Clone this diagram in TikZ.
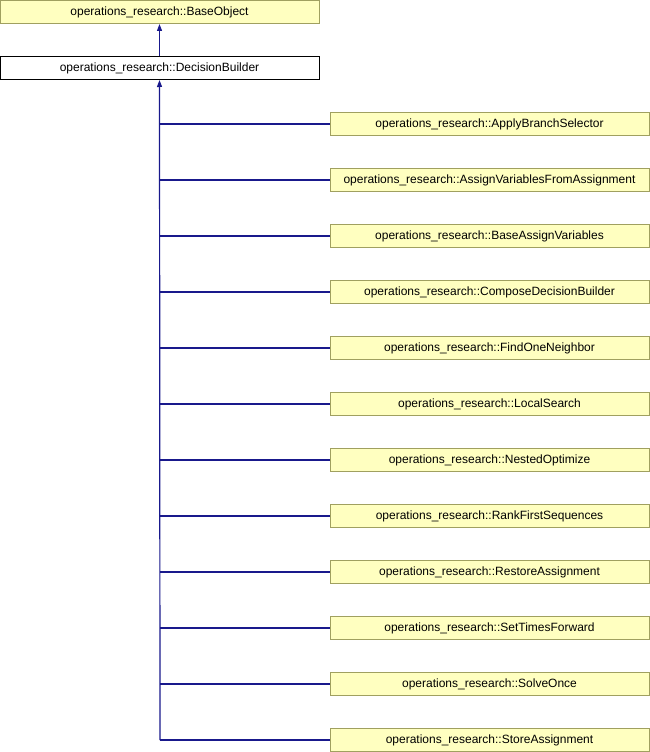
\documentclass[tikz,border=0pt]{standalone}
\usepackage{fontspec}
\setmainfont{Liberation Sans}
\usetikzlibrary{arrows.meta}
\definecolor{classfill}{RGB}{255,255,192}
\definecolor{classborder}{RGB}{160,160,96}
\definecolor{edgeblue}{RGB}{25,25,140}
\tikzset{
  cls/.style={draw=classborder, fill=classfill, line width=1pt, minimum width=319pt, minimum height=23pt, inner sep=0pt, font=\fontsize{12pt}{14pt}\selectfont},
  curcls/.style={cls, draw=black, fill=white},
  inherit/.style={draw=edgeblue, line width=1.2pt, -{Triangle[length=7pt,width=5pt]}},
  branch/.style={draw=edgeblue, line width=1.2pt}
}
\begin{document}
\begin{tikzpicture}[x=1pt,y=-1pt]
\useasboundingbox (0,0) rectangle (650,752);
\node[cls] (base) at (159.5,12) {operations\_research::BaseObject};
\node[curcls] (db) at (159.5,68) {operations\_research::DecisionBuilder};
\draw[inherit] (db.north) -- (base.south);
\foreach \i/\name in {0/ApplyBranchSelector,1/AssignVariablesFromAssignment,2/BaseAssignVariables,3/ComposeDecisionBuilder,4/FindOneNeighbor,5/LocalSearch,6/NestedOptimize,7/RankFirstSequences,8/RestoreAssignment,9/SetTimesForward,10/SolveOnce,11/StoreAssignment}{
  \node[cls] (c\i) at (489.5,124+56*\i) {operations\_research::\name};
  \coordinate (j\i) at (160,124+56*\i);
  \draw[branch] (c\i.west) -- (j\i);
}
\draw[inherit] (j11) -- (db.south);
\end{tikzpicture}
\end{document}
